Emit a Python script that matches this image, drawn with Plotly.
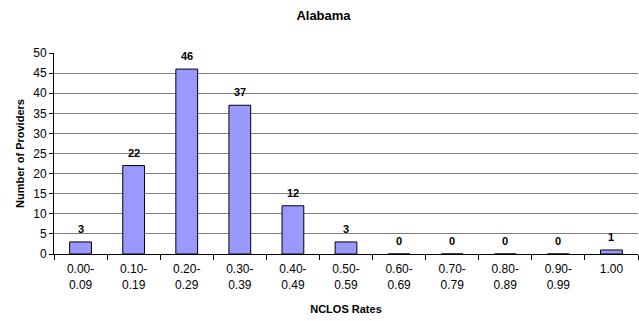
import plotly.graph_objects as go

categories = ["0.00-<br>0.09", "0.10-<br>0.19", "0.20-<br>0.29", "0.30-<br>0.39", "0.40-<br>0.49",
              "0.50-<br>0.59", "0.60-<br>0.69", "0.70-<br>0.79", "0.80-<br>0.89", "0.90-<br>0.99", "1.00"]
providers = [3, 22, 46, 37, 12, 3, 0, 0, 0, 0, 1]
y_ticks = [0, 5, 10, 15, 20, 25, 30, 35, 40, 45, 50]

font_family = "Liberation Sans, Arial, sans-serif"

fig = go.Figure()
fig.add_trace(go.Bar(
    x=categories,
    y=providers,
    width=0.41,
    marker=dict(color="#9999FF", line=dict(color="#000000", width=1)),
    showlegend=False,
))

# value labels above each bar (positioned by category index)
for i, val in enumerate(providers):
    fig.add_annotation(
        x=i, y=val, xref="x", yref="y", text=f"<b>{val}</b>", showarrow=False,
        yanchor="bottom", yshift=5,
        font=dict(family=font_family, size=11, color="#000000"),
    )

fig.update_layout(
    width=639, height=321,
    margin=dict(l=54, r=1, t=53, b=67),
    paper_bgcolor="#FFFFFF",
    plot_bgcolor="#FFFFFF",
    font=dict(family=font_family, size=12, color="#000000"),
    title=dict(text="<b>Alabama</b>", x=323.5 / 639, xanchor="center", y=1 - 15 / 321, yanchor="middle",
               font=dict(family=font_family, size=13)),
    xaxis=dict(
        type="category",
        tickson="boundaries",
        ticks="outside", ticklen=5, tickcolor="#000000",
        ticklabelstandoff=4,
        showline=True, linecolor="#000000", linewidth=1,
        showgrid=False,
        tickfont=dict(size=12),
        title=dict(text="<b>NCLOS Rates</b>", font=dict(size=11), standoff=14),
    ),
    yaxis=dict(
        range=[0, 50],
        tickvals=y_ticks,
        ticks="outside", ticklen=4, tickcolor="#000000",
        showline=True, linecolor="#000000", linewidth=1,
        showgrid=True, gridcolor="#808080", gridwidth=1,
        zeroline=False,
        tickfont=dict(size=12),
        title=dict(text="<b>Number of Providers</b>", font=dict(size=11), standoff=6),
    ),
)

fig.write_html("out.html")
